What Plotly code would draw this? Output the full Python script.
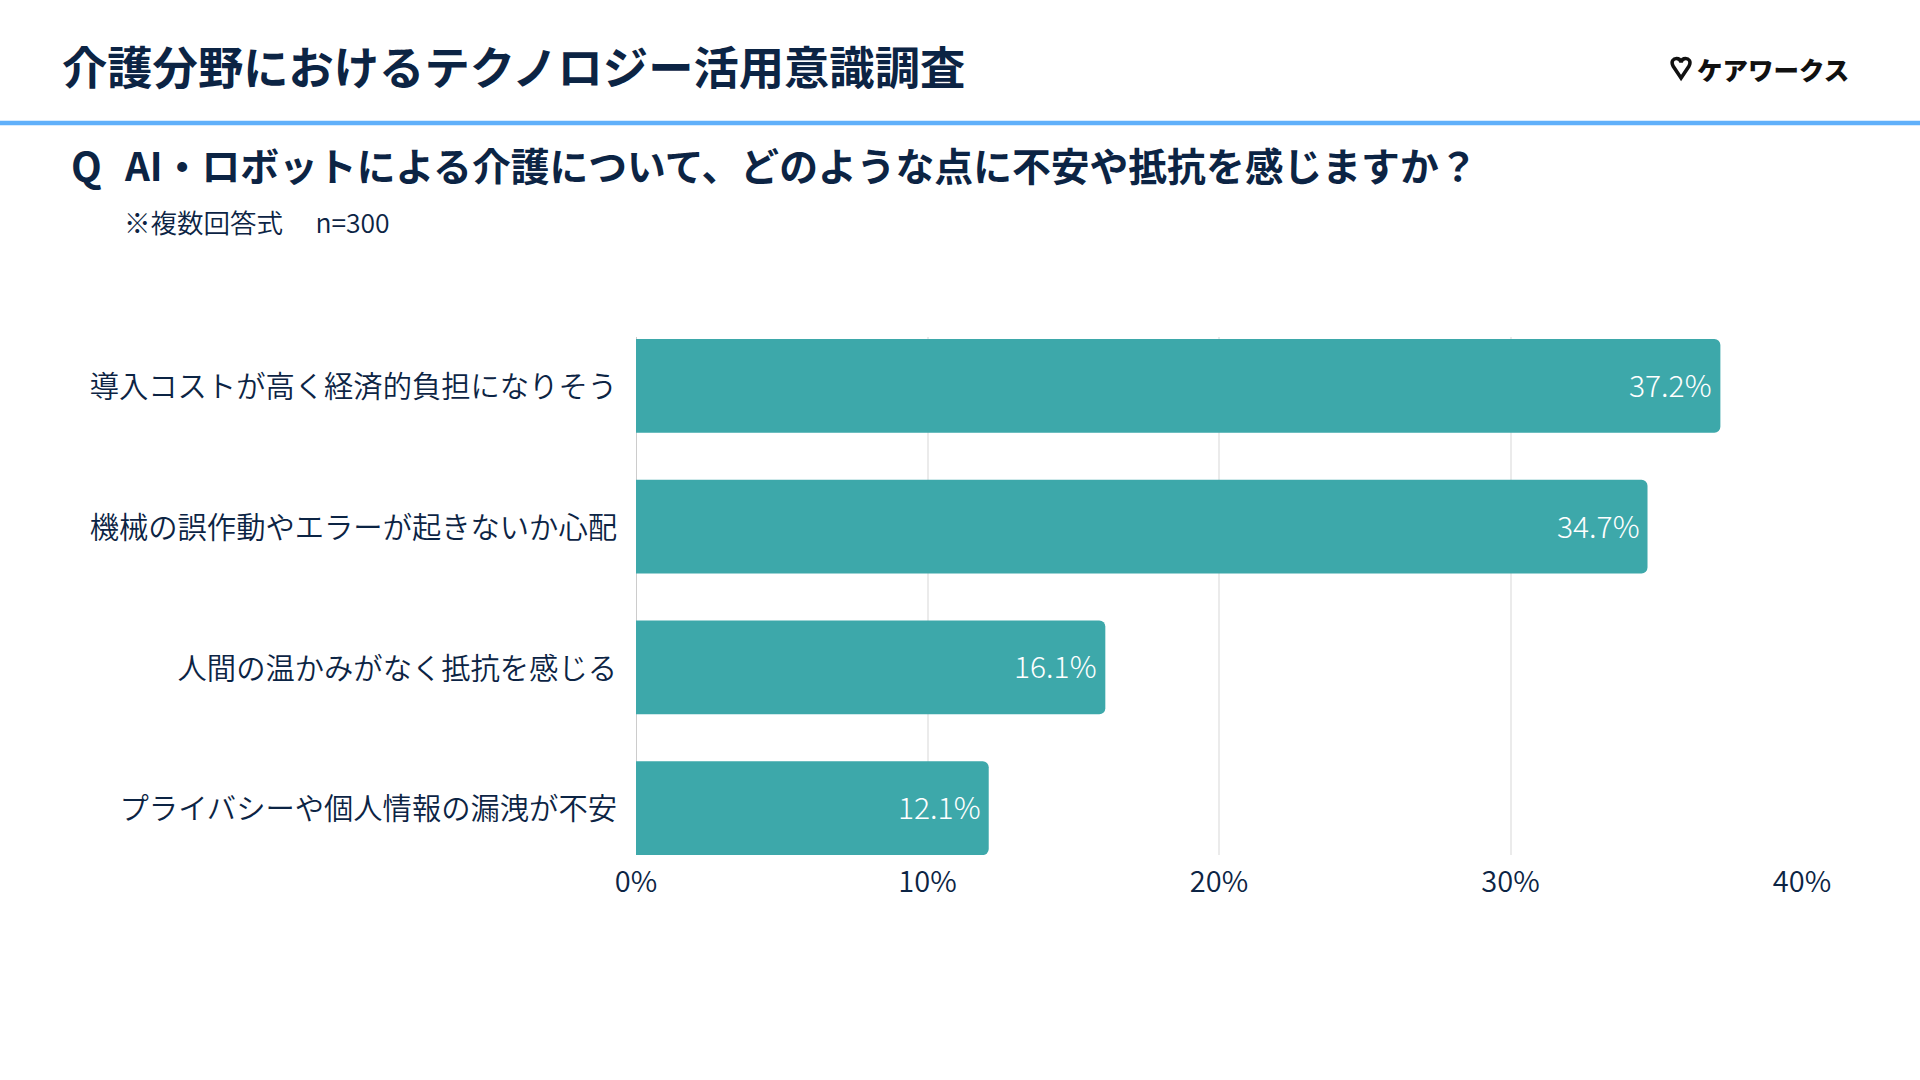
import plotly.graph_objects as go

categories = ['導入コストが高く経済的負担になりそう', '機械の誤作動やエラーが起きないか心配',
              '人間の温かみがなく抵抗を感じる', 'プライバシーや個人情報の漏洩が不安']
values = [37.2, 34.7, 16.1, 12.1]
x_ticks = [0, 10, 20, 30, 40]
x_tick_labels = ['0%', '10%', '20%', '30%', '40%']

title = '介護分野におけるテクノロジー活用意識調査'
question = 'AI・ロボットによる介護について、どのような点に不安や抵抗を感じますか？'
note = '※複数回答式　 n=300'
logo = 'ケアワークス'

W, H = 1920, 1080
L, R, T, B = 636, 117.5, 337, 225
FONT = 'Noto Sans CJK JP'
NAVY = '#0c2444'


# page pixels to paper coords, the header sits outside the plot area
def px(x):
    return (x - L) / (W - L - R)


def py(y):
    return 1 - (y - T) / (H - T - B)


def label(x, y, text, size, weight=400, color=NAVY, anchor='left'):
    return dict(x=px(x), y=py(y), xref='paper', yref='paper', text=text, showarrow=False,
                xanchor=anchor, yanchor='middle',
                font=dict(family=FONT, size=size, weight=weight, color=color))


# heart of the logo, drawn as an outline
heart = [('M', 1681.5, 78), ('L', 1673.5, 66), ('C', 1671, 61, 1674, 58.5, 1677, 58.5),
         ('C', 1679.5, 58.5, 1681, 60, 1681.5, 62.5), ('C', 1682, 60, 1683.5, 58.5, 1686, 58.5),
         ('C', 1689, 58.5, 1692, 61, 1689.5, 66)]
heart_path = ''
for seg in heart:
    pts = seg[1:]
    heart_path += seg[0] + ' ' + ' '.join('{:.5f},{:.5f}'.format(px(pts[i]), py(pts[i + 1])) for i in range(0, len(pts), 2)) + ' '
heart_path += 'Z'

bars = go.Bar(
    x=values, y=categories, orientation='h', width=0.667,
    marker=dict(color='#3da8aa', cornerradius=6, line_width=0),
)

value_labels = [dict(x=v, y=c, xref='x', yref='y', text='{}%'.format(v), showarrow=False,
                     xanchor='right', yanchor='middle', xshift=-6, yshift=2,
                     font=dict(family=FONT, size=30, color='white', weight=300))
                for v, c in zip(values, categories)]

fig = go.Figure(data=[bars])
fig.update_layout(
    width=W, height=H, margin=dict(l=L, r=R, t=T, b=B, pad=0),
    paper_bgcolor='white', plot_bgcolor='white', showlegend=False,
    font=dict(family=FONT, color=NAVY),
    annotations=[
        label(60, 65, title, 45.3, 700),
        label(69, 165, 'Q', 40, 700),
        label(121.5, 164, question, 38.8, 700),
        label(121.5, 221, note, 26.5, 350),
        label(1695, 68, logo, 25.5, 900, '#111111'),
    ] + value_labels,
    shapes=[
        dict(type='line', xref='paper', yref='paper', x0=px(-5), x1=px(W + 5), y0=py(123), y1=py(123),
             line=dict(color='#60b0fa', width=4.5)),
        dict(type='path', xref='paper', yref='paper', path=heart_path, line=dict(color='#111111', width=3.5)),
    ],
)
fig.update_xaxes(range=[0, 40], tickvals=x_ticks, ticktext=x_tick_labels, showgrid=True,
                 gridcolor='#ebebeb', gridwidth=1.5,
                 zeroline=True, zerolinecolor='#cccccc', zerolinewidth=1.2, showline=False, ticks='',
                 tickfont=dict(family=FONT, size=29, color=NAVY, weight=350), ticklabelstandoff=7)
fig.update_yaxes(type='category', categoryorder='array', categoryarray=categories, range=[3.333, -0.347],
                 showgrid=False, showline=False, ticks='',
                 tickfont=dict(family=FONT, size=29.3, color=NAVY, weight=350), ticklabelstandoff=18, ticklabelshift=-1)

fig.write_html('out.html', config={'displayModeBar': False}, post_script="document.body.style.margin='0';")
